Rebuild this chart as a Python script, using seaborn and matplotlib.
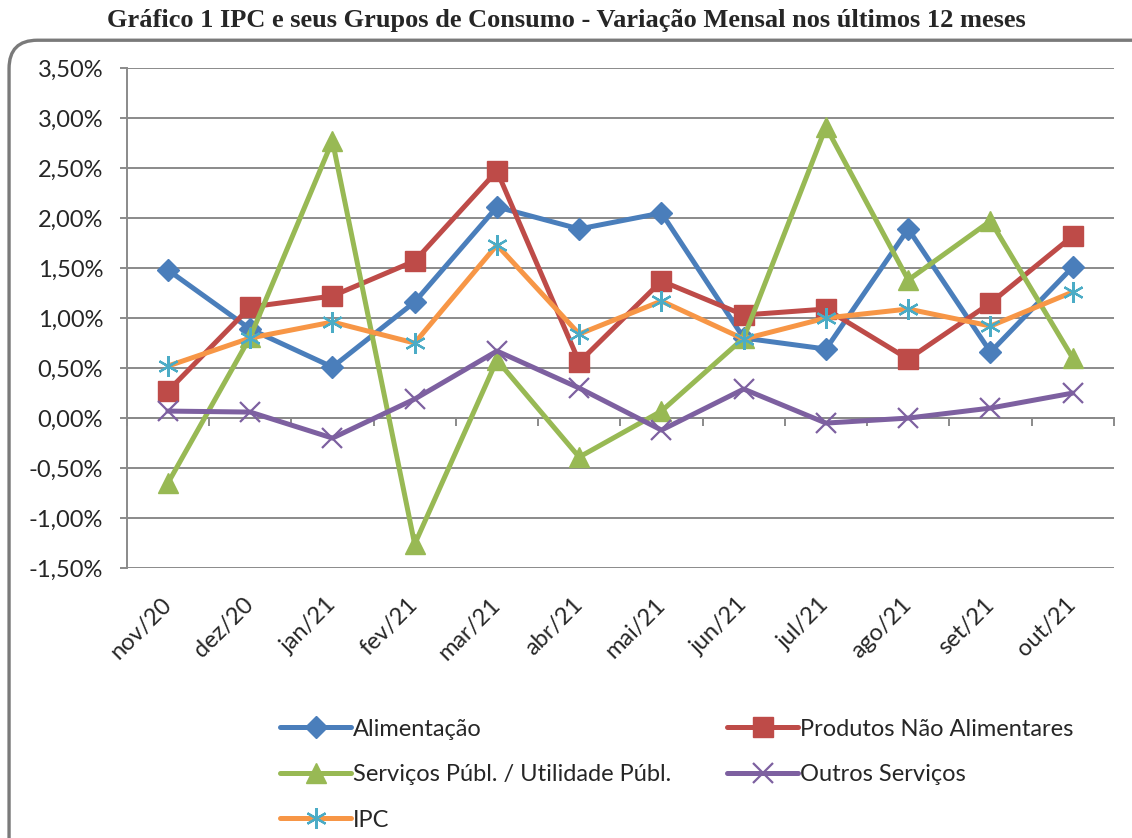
import numpy as np
import matplotlib
matplotlib.use('Agg')
import matplotlib.pyplot as plt
from matplotlib.patches import FancyBboxPatch
from matplotlib.ticker import FuncFormatter, MultipleLocator
import seaborn as sns

meses = ['nov/20', 'dez/20', 'jan/21', 'fev/21', 'mar/21', 'abr/21',
         'mai/21', 'jun/21', 'jul/21', 'ago/21', 'set/21', 'out/21']

alimentacao = [1.48, 0.89, 0.51, 1.16, 2.11, 1.89, 2.05, 0.80, 0.69, 1.89, 0.66, 1.51]
produtos = [0.27, 1.11, 1.22, 1.57, 2.47, 0.56, 1.37, 1.03, 1.09, 0.59, 1.15, 1.82]
servicos = [-0.65, 0.81, 2.77, -1.26, 0.58, -0.39, 0.07, 0.80, 2.91, 1.38, 1.97, 0.60]
outros = [0.07, 0.06, -0.20, 0.19, 0.67, 0.30, -0.12, 0.29, -0.05, 0.00, 0.10, 0.25]
ipc = [0.52, 0.80, 0.96, 0.75, 1.73, 0.84, 1.17, 0.79, 1.00, 1.09, 0.92, 1.26]

sns.set_style("white")
plt.rcParams['font.family'] = ['Lato', 'DejaVu Sans']

fig = plt.figure(figsize=[11.32, 8.38], dpi=100)
ax = fig.add_axes([0.112, 0.322, 0.872, 0.597])

xv = np.arange(len(meses))
lw = 3.6
series = [
    (alimentacao, 'Alimentação', '#4A7EBB', 'D', 11, None, 1),
    (produtos, 'Produtos Não Alimentares', '#BE4B48', 's', 15, None, 1),
    (servicos, 'Serviços Públ. / Utilidade Públ.', '#98B954', '^', 15, None, 1),
    (outros, 'Outros Serviços', '#7D60A0', 'x', 14, '#7D60A0', 1.6),
    (ipc, 'IPC', '#F79646', (6, 2, 0), 15, '#4BACC6', 1.6),
]
for yv, lab, col, mk, ms, mec, mew in series:
    sns.lineplot(x=xv, y=yv, ax=ax, color=col, lw=lw, marker=mk, markersize=ms,
                 markeredgecolor=mec if mec else col, markerfacecolor=col,
                 markeredgewidth=mew, label=lab, zorder=3)
h, l = ax.get_legend_handles_labels()
ax.get_legend().remove()
order = [0, 2, 4, 1, 3]
fig.legend([h[i] for i in order], [l[i] for i in order], ncol=2, loc='upper left',
           bbox_to_anchor=(0.2475, 0.1425), frameon=False, fontsize=17,
           handlelength=3.0, handletextpad=0.1, labelspacing=1.04, columnspacing=2.35,
           borderaxespad=0, borderpad=0)

gray = '#8a8a8a'
ax.set_xlim(-0.5, 11.5)
ax.set_ylim(-1.5, 3.5)
ax.yaxis.set_major_locator(MultipleLocator(0.5))
ax.yaxis.set_major_formatter(FuncFormatter(lambda v, p: ('%.2f%%' % v).replace('.', ',')))
ax.grid(axis='y', color=gray, lw=1.4)
ax.set_axisbelow(True)
for s in ['top', 'right', 'bottom']:
    ax.spines[s].set_visible(False)
ax.spines['left'].set_color(gray)
ax.spines['left'].set_linewidth(1.4)
ax.tick_params(axis='y', length=5, color=gray, width=1.4, labelsize=17, left=True, pad=12)
ax.set_xticks(xv)
ax.set_xticklabels(meses, rotation=45, ha='right', va='center', rotation_mode='anchor')
ax.tick_params(axis='x', length=0, labelsize=17, pad=24)
ax.set_xlabel('')
ax.set_ylabel('')

# linha do zero com marcas entre categorias
sec = ax.secondary_xaxis(0.3)
sec.set_xticks(np.arange(-0.5, 12, 1))
sec.set_xticklabels([])
sec.tick_params(length=6, color=gray, width=1.4, direction='out')
sec.spines['bottom'].set_color(gray)
sec.spines['bottom'].set_linewidth(1.4)

fig.text(0.5, 0.976, 'Gráfico 1 IPC e seus Grupos de Consumo - Variação Mensal nos últimos 12 meses',
         ha='center', va='center', fontsize=19, fontweight='bold', family='Liberation Serif')

frame = FancyBboxPatch((0.008, -0.05), 1.05, 1.002, transform=fig.transFigure,
                       boxstyle='round,pad=0,rounding_size=0.025', fill=False,
                       edgecolor='#7a7a7a', lw=2.4, clip_on=False, mutation_aspect=1132 / 838)
fig.patches.append(frame)

fig.savefig('out.png', dpi=100)
